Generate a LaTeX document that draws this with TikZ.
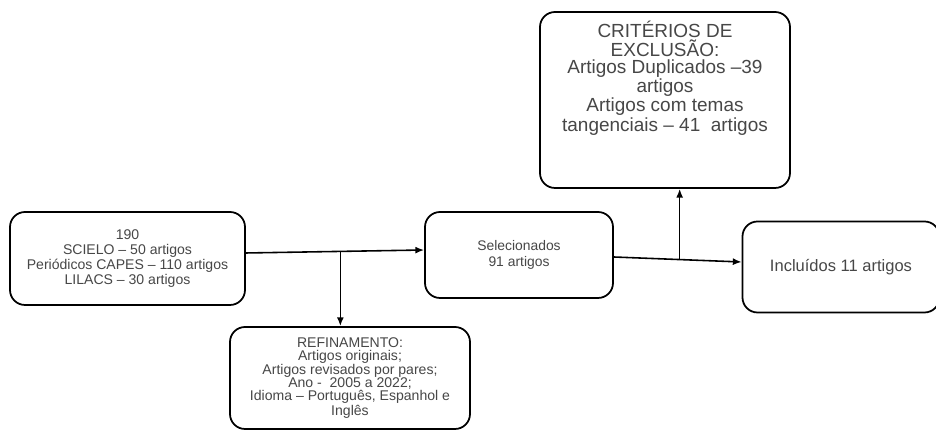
\documentclass[tikz,border=0pt]{standalone}
\usepackage{fontspec}
\setmainfont{Liberation Sans}
\usepackage{tikz}
\usetikzlibrary{positioning}
\usetikzlibrary{arrows.meta}
\usetikzlibrary{calc}
\tikzstyle{box}=[rectangle,draw=black,line width=1pt,rounded corners=0.3cm,fill=white,inner sep=0pt]
\tikzstyle{txt}=[text=black!72,align=center,inner sep=0pt]
\tikzstyle{edge} = [draw,line width=0.9pt,-{Latex[length=5pt,width=4pt]}]
\tikzstyle{undirectededge} = [draw,line width=0.9pt]

\begin{document}
\begin{tikzpicture}[auto,swap]

 \useasboundingbox (0,0) rectangle (18.72,8.64);

 %Bases
 \node[box,txt,minimum width=4.7cm,minimum height=1.86cm,font=\fontsize{8}{8.4}\selectfont] (bases) at (2.55,3.47)
   {190\\SCIELO -- 50 artigos\\Periódicos CAPES -- 110 artigos\\LILACS -- 30 artigos};

 %Refinamento
 \node[box,txt,minimum width=4.8cm,minimum height=2.04cm,font=\fontsize{8}{7.4}\selectfont] (refino) at (7.0,1.08)
   {REFINAMENTO:\\Artigos originais;\\Artigos revisados por pares;\\Ano -\ \ 2005 a 2022;\\Idioma -- Português, Espanhol e\\Inglês};

 %Selecionados
 \node[box,txt,minimum width=3.76cm,minimum height=1.72cm,font=\fontsize{7.9}{9.4}\selectfont] (selec) at (10.38,3.54)
   {Selecionados\\91 artigos};

 %Exclusao
 \node[box,minimum width=5.0cm,minimum height=3.52cm] (exclu) at (13.3,6.64) {};
 \node[txt,below=0.2cm of exclu.north,font=\fontsize{10.8}{9.4}\selectfont] (exclutxt)
   {CRITÉRIOS DE\\EXCLUSÃO:\\Artigos Duplicados --39\\artigos\\Artigos com temas\\tangenciais -- 41\ \ artigos};

 %Incluidos
 \node[box,txt,minimum width=3.94cm,minimum height=1.82cm,font=\fontsize{9.4}{11}\selectfont] (inclu) at (16.82,3.3)
   {Incluídos 11 artigos};

 \foreach \source/\sy/\dest/\dy in {bases.east/1.1/selec.west/1, selec.east/-0.4/inclu.west/1}
        \path[edge] ([yshift=\sy mm]\source) -- ([yshift=\dy mm]\dest);

 \coordinate (j1) at ($([yshift=1.1mm]bases.east)!0.53!([yshift=1mm]selec.west)$);
 \coordinate (j2) at ($([yshift=-0.4mm]selec.east)!0.515!([yshift=1mm]inclu.west)$);

 \foreach \source/ \dest in {j1/refino.north, j2/exclu.south}
        \path[edge] (\source) -- (\source |- \dest);

\end{tikzpicture}
\end{document}
